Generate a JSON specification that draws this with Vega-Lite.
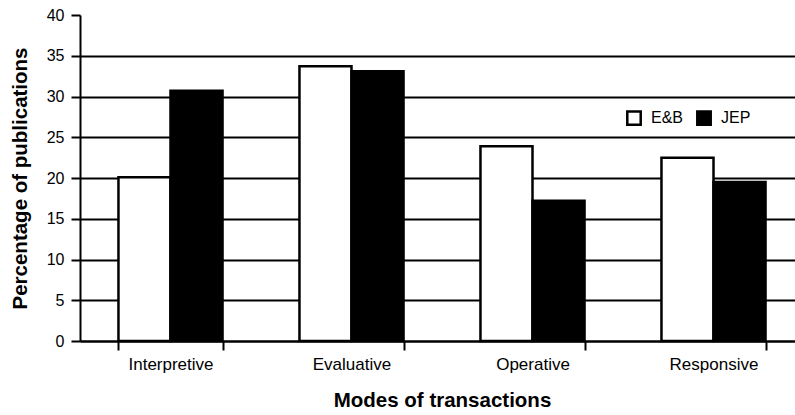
{
  "$schema": "https://vega.github.io/schema/vega-lite/v6.json",
  "autosize": {"type": "none"},
  "padding": {"left": 80, "top": 15, "right": 0, "bottom": 74},
  "width": 715,
  "height": 326,
  "background": "white",
  "config": {
    "view": {"stroke": null},
    "font": "Liberation Sans",
    "axis": {
      "labelFont": "Liberation Sans",
      "titleFont": "Liberation Sans",
      "labelColor": "black",
      "titleColor": "black",
      "domainColor": "black",
      "tickColor": "black",
      "domainWidth": 2,
      "tickWidth": 2,
      "labelFontSize": 16,
      "titleFontSize": 20.5,
      "titleFontWeight": "bold"
    }
  },
  "data": {
    "values": [
      {"mode": "Interpretive", "journal": "E&B", "pct": 20.1},
      {"mode": "Interpretive", "journal": "JEP", "pct": 30.7},
      {"mode": "Evaluative", "journal": "E&B", "pct": 33.7},
      {"mode": "Evaluative", "journal": "JEP", "pct": 33.1},
      {"mode": "Operative", "journal": "E&B", "pct": 23.9},
      {"mode": "Operative", "journal": "JEP", "pct": 17.2},
      {"mode": "Responsive", "journal": "E&B", "pct": 22.5},
      {"mode": "Responsive", "journal": "JEP", "pct": 19.5}
    ]
  },
  "mark": {"type": "bar", "stroke": "black", "strokeWidth": 2.5},
  "encoding": {
    "x": {
      "field": "mode",
      "type": "nominal",
      "sort": ["Interpretive", "Evaluative", "Operative", "Responsive"],
      "scale": {"range": [0, 724], "paddingInner": 0.425, "paddingOuter": 0.2125},
      "axis": {
        "title": "Modes of transactions",
        "labelAngle": 0,
        "labelFontSize": 17,
        "tickBand": "extent",
        "tickSize": 9,
        "labelPadding": 6,
        "titleX": 362,
        "titleY": 59,
        "titleBaseline": "middle",
        "titleAnchor": null
      }
    },
    "xOffset": {
      "field": "journal",
      "type": "nominal",
      "sort": ["E&B", "JEP"],
      "scale": {"paddingInner": 0, "paddingOuter": 0}
    },
    "y": {
      "field": "pct",
      "type": "quantitative",
      "scale": {"domain": [0, 40], "nice": false},
      "axis": {
        "title": "Percentage of publications",
        "values": [0, 5, 10, 15, 20, 25, 30, 35, 40],
        "grid": true,
        "gridColor": {"condition": {"test": "datum.value == 40", "value": "transparent"}, "value": "black"},
        "gridWidth": 2,
        "tickSize": 9,
        "labelPadding": 7,
        "titleX": -60,
        "titleY": 163,
        "titleAngle": 270,
        "titleAlign": "center",
        "titleBaseline": "middle"
      }
    },
    "fill": {
      "field": "journal",
      "type": "nominal",
      "sort": ["E&B", "JEP"],
      "scale": {"domain": ["E&B", "JEP"], "range": ["white", "black"]},
      "legend": {
        "title": null,
        "orient": "none",
        "direction": "horizontal",
        "legendX": 546,
        "legendY": 95,
        "symbolType": "square",
        "symbolSize": 180,
        "symbolStrokeColor": "black",
        "symbolStrokeWidth": 2.5,
        "labelFont": "Liberation Sans",
        "labelFontSize": 16,
        "labelColor": "black",
        "labelOffset": 9,
        "columnPadding": 8
      }
    }
  }
}
